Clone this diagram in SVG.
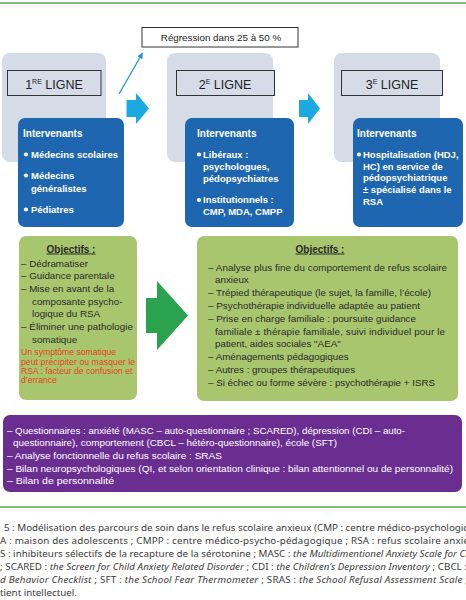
<svg xmlns="http://www.w3.org/2000/svg" width="466" height="600" viewBox="0 0 466 600">
<defs>
<style>
.t{font-family:"Liberation Sans",Arial,sans-serif}
.grey{fill:#d5dce8}
.ttl{fill:#d5dce8;stroke:#333;stroke-width:1}
.ttx{font-family:"Liberation Sans",Arial,sans-serif;font-size:12.5px;fill:#222;text-anchor:middle}
.blue{fill:#1f66b1}
.bh{font-family:"Liberation Sans",Arial,sans-serif;font-size:10px;font-weight:bold;fill:#fff}
.bi{font-family:"Liberation Sans",Arial,sans-serif;font-size:9.5px;font-weight:bold;fill:#fff}
.dot{fill:#fff}
.green{fill:#a8c66e}
.gh{font-family:"Liberation Sans",Arial,sans-serif;font-size:10px;font-weight:bold;fill:#2a2a2a;text-anchor:middle;text-decoration:underline}
.gt{font-family:"Liberation Sans",Arial,sans-serif;font-size:9.8px;fill:#2a2a2a}
.red{font-family:"Liberation Sans",Arial,sans-serif;font-size:8.6px;fill:#e8421d}
.purple{fill:#6a2d90}
.pt{font-family:"Liberation Sans",Arial,sans-serif;font-size:9.6px;fill:#fff}
.cap{font-family:"Noto Sans","Open Sans",sans-serif;font-size:9.8px;fill:#3a3a3a}
.it{font-style:italic}
.cyan{fill:#1ba9e1}
.garrow{fill:#2ba24d}
.rule{stroke:#56aa57;stroke-width:1.5}
</style>
<marker id="ah" viewBox="0 0 10 10" refX="9" refY="5" markerWidth="6" markerHeight="6" orient="auto" markerUnits="userSpaceOnUse">
<path d="M0,0 L10,5 L0,10 z" fill="#2196d3"/>
</marker>
</defs>
<rect width="466" height="600" fill="#fff"/>
<line class="rule" x1="0" y1="3" x2="466" y2="3"/>
<line class="rule" x1="0" y1="507" x2="466" y2="507"/>

<g id="regression">
<rect x="142" y="27.5" width="156" height="19.5" fill="#fff" stroke="#333" stroke-width="1"/>
<text class="t" x="221" y="40.5" font-size="9.8" fill="#222" text-anchor="middle">Régression dans 25 à 50 %</text>
</g>

<g id="ligne1">
<rect class="grey" x="2" y="53" width="104" height="109" rx="8"/>
<rect class="ttl" x="7.5" y="70.5" width="93.5" height="25"/>
<text class="ttx" x="54" y="88.5">1<tspan font-size="7" dy="-4.5">RE</tspan><tspan dy="4.5"> LIGNE</tspan></text>
</g>
<g id="ligne2">
<rect class="grey" x="167" y="53" width="106" height="109" rx="8"/>
<rect class="ttl" x="176.5" y="70.5" width="98" height="25"/>
<text class="ttx" x="225" y="88.5">2<tspan font-size="7" dy="-4.5">E</tspan><tspan dy="4.5"> LIGNE</tspan></text>
</g>
<g id="ligne3">
<rect class="grey" x="334" y="53" width="106" height="109" rx="8"/>
<rect class="ttl" x="341.5" y="70.5" width="101" height="25"/>
<text class="ttx" x="392" y="88.5">3<tspan font-size="7" dy="-4.5">E</tspan><tspan dy="4.5"> LIGNE</tspan></text>
</g>

<g id="intervenants1">
<rect class="blue" x="18" y="118" width="106" height="109" rx="7"/>
<text class="bh" x="23" y="136.5">Intervenants</text>
<circle class="dot" cx="26" cy="154.5" r="2.1"/>
<text class="bi" x="31" y="157.5">Médecins scolaires</text>
<circle class="dot" cx="26" cy="175.5" r="2.1"/>
<text class="bi" x="31" y="178.5">Médecins</text>
<text class="bi" x="31" y="191.5">généralistes</text>
<circle class="dot" cx="26" cy="209.5" r="2.1"/>
<text class="bi" x="31" y="212.5">Pédiatres</text>
</g>
<g id="intervenants2">
<rect class="blue" x="185" y="118" width="109" height="109" rx="7"/>
<text class="bh" x="197" y="136.5">Intervenants</text>
<circle class="dot" cx="199" cy="154.5" r="2.1"/>
<text class="bi" x="203" y="157.5">Libéraux :</text>
<text class="bi" x="203" y="169.5">psychologues,</text>
<text class="bi" x="203" y="181.5">pédopsychiatres</text>
<circle class="dot" cx="199" cy="200" r="2.1"/>
<text class="bi" x="203" y="203">Institutionnels :</text>
<text class="bi" x="203" y="215">CMP, MDA, CMPP</text>
</g>
<g id="intervenants3">
<rect class="blue" x="353" y="118" width="110" height="109" rx="7"/>
<text class="bh" x="357" y="136.5">Intervenants</text>
<circle class="dot" cx="359" cy="154.5" r="2.1"/>
<text class="bi" x="363" y="157.5">Hospitalisation (HDJ,</text>
<text class="bi" x="363" y="169.5">HC) en service de</text>
<text class="bi" x="363" y="181">pédopsychiatrique</text>
<text class="bi" x="363" y="192.5">± spécialisé dans le</text>
<text class="bi" x="363" y="204.5">RSA</text>
</g>

<g id="objectifs1">
<rect class="green" x="19" y="236" width="118" height="164" rx="7"/>
<text class="gh" x="71" y="252.5">Objectifs :</text>
<text class="gt" x="21" y="266.5">– Dédramatiser</text>
<text class="gt" x="21" y="279.2">– Guidance parentale</text>
<text class="gt" x="21" y="291.9">– Mise en avant de la</text>
<text class="gt" x="32" y="304.6">composante psycho-</text>
<text class="gt" x="32" y="317.3">logique du RSA</text>
<text class="gt" x="21" y="330" textLength="112">– Éliminer une pathologie</text>
<text class="gt" x="32" y="342.7">somatique</text>
<text class="red" x="21" y="355">Un symptôme somatique</text>
<text class="red" x="21" y="364.5" textLength="114">peut précipiter ou masquer le</text>
<text class="red" x="21" y="374">RSA : facteur de confusion et</text>
<text class="red" x="21" y="383">d’errance</text>
</g>

<g id="objectifs2">
<rect class="green" x="197" y="236" width="261" height="165" rx="7"/>
<text class="gh" x="320" y="252.5">Objectifs :</text>
<text class="gt" x="208" y="270.5" textLength="239">– Analyse plus fine du comportement de refus scolaire</text>
<text class="gt" x="215" y="283.3">anxieux</text>
<text class="gt" x="208" y="296.1" textLength="223">– Trépied thérapeutique (le sujet, la famille, l’école)</text>
<text class="gt" x="208" y="308.9" textLength="212">– Psychothérapie individuelle adaptée au patient</text>
<text class="gt" x="208" y="321.7" textLength="208">– Prise en charge familiale : poursuite guidance</text>
<text class="gt" x="215" y="334.5" textLength="230">familiale ± thérapie familiale, suivi individuel pour le</text>
<text class="gt" x="215" y="347.3">patient, aides sociales "AEA"</text>
<text class="gt" x="208" y="360.1">– Aménagements pédagogiques</text>
<text class="gt" x="208" y="372.9">– Autres : groupes thérapeutiques</text>
<text class="gt" x="208" y="385.7" textLength="227">– Si échec ou forme sévère : psychothérapie + ISRS</text>
</g>

<g id="bilans">
<rect class="purple" x="3" y="415" width="459" height="77" rx="7"/>
<text class="pt" x="7" y="433.5" textLength="398" lengthAdjust="spacingAndGlyphs">– Questionnaires : anxiété (MASC – auto-questionnaire ; SCARED), dépression (CDI – auto-</text>
<text class="pt" x="13" y="446.2" textLength="324" lengthAdjust="spacingAndGlyphs">questionnaire), comportement (CBCL – hétéro-questionnaire), école (SFT)</text>
<text class="pt" x="7" y="458.9" textLength="215" lengthAdjust="spacingAndGlyphs">– Analyse fonctionnelle du refus scolaire : SRAS</text>
<text class="pt" x="7" y="471.6" textLength="446" lengthAdjust="spacingAndGlyphs">– Bilan neuropsychologiques (QI, et selon orientation clinique : bilan attentionnel ou de personnalité)</text>
<text class="pt" x="7" y="484.3" textLength="107" lengthAdjust="spacingAndGlyphs">– Bilan de personnalité</text>
</g>

<g id="connectors">
<line x1="119" y1="94" x2="142.5" y2="53" stroke="#2196d3" stroke-width="1.3" marker-end="url(#ah)"/>
<polygon class="cyan" points="126.5,100 136,100 136,93 149,108.5 136,124 136,117 126.5,117"/>
<polygon class="cyan" points="299,100 308,100 308,93 320,108.5 308,124 308,117 299,117"/>
<polygon class="garrow" points="146,298 157,298 157,281 188,315.5 157,350 157,333 146,333"/>
</g>

<g id="caption">
<text class="cap" x="4" y="531" textLength="464">5 : Modélisation des parcours de soin dans le refus scolaire anxieux (CMP : centre médico-psychologic</text>
<text class="cap" x="0" y="544" textLength="469">A : maison des adolescents ; CMPP : centre médico-psycho-pédagogique ; RSA : refus scolaire anxie</text>
<text class="cap" x="0" y="557" textLength="471">S : inhibiteurs sélectifs de la recapture de la sérotonine ; MASC : <tspan class="it">the Multidimentionel Anxiety Scale for Ch</tspan></text>
<text class="cap" x="0" y="570" textLength="467">; SCARED : <tspan class="it">the Screen for Child Anxiety Related Disorder</tspan> ; CDI : <tspan class="it">the Children’s Depression Inventory</tspan> ; CBCL :</text>
<text class="cap" x="0" y="583" textLength="468"><tspan class="it">d Behavior Checklist</tspan> ; SFT : <tspan class="it">the School Fear Thermometer</tspan> ; SRAS : <tspan class="it">the School Refusal Assessment Scale</tspan> ;</text>
<text class="cap" x="0" y="596">tient intellectuel.</text>
</g>
</svg>
